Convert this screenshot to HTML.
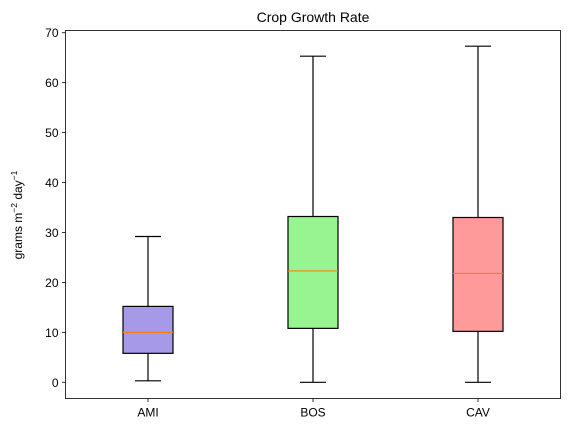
<!DOCTYPE html>
<html><head><meta charset="utf-8"><style>
body{margin:0;background:#fff;}
svg text{font-family:"Liberation Sans","DejaVu Sans",sans-serif;fill:#000;}
</style></head><body>
<svg id="chart" width="570" height="433" xmlns="http://www.w3.org/2000/svg">
<rect x="0" y="0" width="570" height="433" fill="#fff"/>
<text x="313" y="22" font-size="14" text-anchor="middle">Crop Growth Rate</text>
<g id="plot"></g>
<text transform="translate(22,215) rotate(-90)" font-size="12" text-anchor="middle">grams m<tspan font-size="8.5" dy="-5">−2</tspan><tspan dy="5"> day</tspan><tspan font-size="8.5" dy="-5">−1</tspan></text>
</svg>
<script>
const categories=["AMI","BOS","CAV"];
const whiskerLow=[0.3,0,0];
const q1=[5.8,10.8,10.2];
const medians=[10,22.3,21.8];
const q3=[15.2,33.2,33.0];
const whiskerHigh=[29.2,65.3,67.3];
const colors=["#a699e8","#98f491","#ff9a9b"];
const yTicks=[0,10,20,30,40,50,60,70];

const L=65.5,R=560.5,T=30.5,B=398.5;
const y=v=>382.3-v*4.994;
const x=i=>L+(R-L)*(i+0.5)/categories.length;
const NS="http://www.w3.org/2000/svg";
const g=document.getElementById('plot');
function mk(t,a,p){const e=document.createElementNS(NS,t);for(const k in a)e.setAttribute(k,a[k]);(p||g).appendChild(e);return e;}

yTicks.forEach(v=>{
  const t=mk('line',{x1:L-3.5,x2:L,y1:y(v),y2:y(v),stroke:'#000','stroke-width':0.8});
  
  
  const l=mk('text',{x:L-7,y:y(v)+4.5,'font-size':12,'text-anchor':'end'});
  l.textContent=v;
  
  
});
categories.forEach((c,i)=>{
  const cx=x(i),hw=25,cw=13;
  const grp=mk('g',{});
  
  
  mk('line',{x1:cx,x2:cx,y1:y(whiskerLow[i]),y2:y(q1[i]),stroke:'#000','stroke-width':1.2},grp);
  mk('line',{x1:cx,x2:cx,y1:y(q3[i]),y2:y(whiskerHigh[i]),stroke:'#000','stroke-width':1.2},grp);
  mk('line',{x1:cx-cw,x2:cx+cw,y1:y(whiskerLow[i]),y2:y(whiskerLow[i]),stroke:'#000','stroke-width':1.2},grp);
  mk('line',{x1:cx-cw,x2:cx+cw,y1:y(whiskerHigh[i]),y2:y(whiskerHigh[i]),stroke:'#000','stroke-width':1.2},grp);
  mk('rect',{x:cx-hw,y:y(q3[i]),width:2*hw,height:y(q1[i])-y(q3[i]),fill:colors[i],stroke:'#000','stroke-width':1.2},grp);
  mk('line',{x1:cx-hw,x2:cx+hw,y1:y(medians[i]),y2:y(medians[i]),stroke:'#ff7f0e','stroke-width':1.2},grp);
  const t=mk('line',{x1:cx,x2:cx,y1:B,y2:B+3.5,stroke:'#000','stroke-width':0.8});
  
  
  const l=mk('text',{x:cx,y:B+18,'font-size':12,'text-anchor':'middle'});
  l.textContent=c;
  
  
});
const f=mk('rect',{x:L,y:T,width:R-L,height:B-T,fill:'none',stroke:'#000','stroke-width':0.8});


</script>
</body></html>
